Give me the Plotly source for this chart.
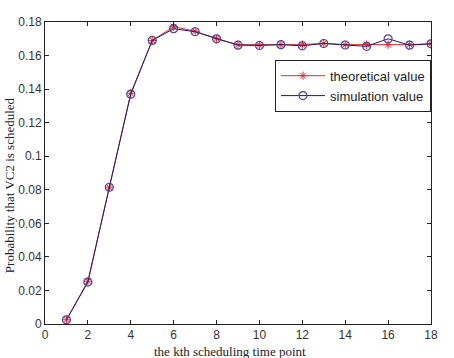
import plotly.graph_objects as go

k = list(range(1, 19))
theoretical = [0.0025, 0.0255, 0.0815, 0.1375, 0.1690, 0.1772, 0.1745, 0.1700, 0.1665, 0.1663, 0.1665, 0.1665,
               0.1673, 0.1665, 0.1665, 0.1665, 0.1665, 0.1670]
simulation = [0.0025, 0.0250, 0.0815, 0.1370, 0.1690, 0.1760, 0.1742, 0.1700, 0.1662, 0.1660, 0.1665, 0.1658,
              0.1672, 0.1663, 0.1655, 0.1700, 0.1662, 0.1670]
xticks = list(range(0, 19, 2))
yticks = [0, 0.02, 0.04, 0.06, 0.08, 0.1, 0.12, 0.14, 0.16, 0.18]
ytext = ["0", "0.02", "0.04", "0.06", "0.08", "0.1", "0.12", "0.14", "0.16", "0.18"]
x_title = "the kth scheduling time point"
y_title = "Probability that VC2 is scheduled"

fig = go.Figure()
fig.add_trace(go.Scatter(x=k, y=theoretical, mode="lines+markers", name="theoretical value",
                         line=dict(color="#d83030", width=1),
                         marker=dict(symbol="asterisk-open", size=7, color="#d83030",
                                     line=dict(color="#d83030", width=1))))
fig.add_trace(go.Scatter(x=k, y=simulation, mode="lines+markers", name="simulation value",
                         line=dict(color="#1c1c6a", width=1),
                         marker=dict(symbol="circle-open", size=8, color="#5a3a9a",
                                     line=dict(color="#5a3a9a", width=1.2))))

axis_common = dict(showline=True, linecolor="#222", linewidth=1, mirror="allticks",
                   ticks="inside", ticklen=4, tickcolor="#222", showgrid=False, zeroline=False,
                   automargin=False,
                   tickfont=dict(family="Arial, Liberation Sans, sans-serif", size=12, color="#333"))

title_font = dict(family="Times New Roman, Liberation Serif, serif", size=13, color="#222")

fig.update_layout(
    width=454, height=358,
    margin=dict(l=45, r=23, t=22, b=34),
    paper_bgcolor="white", plot_bgcolor="white",
    showlegend=True,
    legend=dict(x=1.0, y=0.875, xanchor="right", yanchor="top",
                bordercolor="#222", borderwidth=1, bgcolor="white",
                font=dict(family="Arial, Liberation Sans, sans-serif", size=13, color="#222"),
                tracegroupgap=0, itemwidth=44),
    xaxis=dict(range=[0, 18], tickvals=xticks, **axis_common),
    yaxis=dict(range=[0, 0.18], tickvals=yticks, ticktext=ytext, **axis_common),
    annotations=[
        dict(text=x_title, xref="paper", yref="paper", x=0.479, y=-0.058,
             xanchor="center", yanchor="top", showarrow=False, font=title_font),
        dict(text=y_title, xref="paper", yref="paper", x=-0.093, y=0.46, textangle=-90,
             xanchor="center", yanchor="middle", showarrow=False, font=title_font),
    ],
)

fig.write_html("out.html", config={"displayModeBar": False},
               post_script="document.body.style.margin='0';")
